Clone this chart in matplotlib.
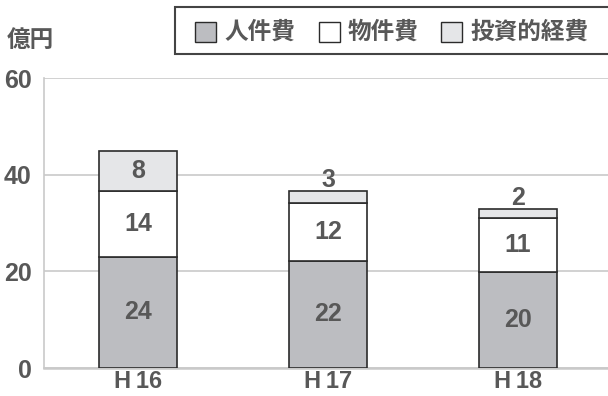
import numpy as np
import matplotlib.pyplot as plt
from matplotlib.patches import Rectangle

plt.rcParams['font.family'] = ['Liberation Sans', 'Noto Sans CJK JP', 'DejaVu Sans']
plt.rcParams['font.weight'] = 'bold'

# data (億円)
years = ["H\u200916", "H\u200917", "H\u200918"]
series = ["人件費", "物件費", "投資的経費"]
personnel = [23.0, 22.2, 19.9]
goods = [13.6, 11.9, 11.1]
invest = [8.2, 2.6, 2.0]
personnel_lbl = ["24", "22", "20"]
goods_lbl = ["14", "12", "11"]
invest_lbl = ["8", "3", "2"]
yticks = [0, 20, 40, 60]

colors = ["#bcbdc1", "#ffffff", "#e5e6e8"]
edge = "#2b2b2b"
txt = "#585858"
grid = "#c9c9c9"
fs = 18

W, H = 608, 396
fig = plt.figure(figsize=(W / 100, H / 100), dpi=100)
ax = fig.add_axes([44 / W, (H - 368) / H, 564 / W, 290 / H])

x = np.arange(len(years))
width = 0.41
vals = [personnel, goods, invest]
lbls = [personnel_lbl, goods_lbl, invest_lbl]
bottom = np.zeros(len(years))
for i, (v, lab) in enumerate(zip(vals, lbls)):
    v = np.array(v)
    bars = ax.bar(x, v, width, bottom=bottom, color=colors[i], edgecolor=edge,
                  linewidth=1.2, zorder=3)
    for j, b in enumerate(bars):
        if v[j] >= 5:
            ax.text(b.get_x() + b.get_width() / 2, bottom[j] + v[j] / 2, lab[j],
                    ha='center', va='center', fontsize=fs, color=txt,
                    fontweight='bold', zorder=4)
        else:
            ax.annotate(lab[j], (b.get_x() + b.get_width() / 2, bottom[j] + v[j]),
                        xytext=(0, -1), textcoords='offset points',
                        ha='center', va='bottom', fontsize=fs, color=txt,
                        fontweight='bold', zorder=4)
    bottom += v

ax.set_xlim(-0.495, 2.474)
ax.set_ylim(0, 60)
ax.set_yticks(yticks)
ax.set_xticks(x)
ax.set_xticklabels(years)
ax.tick_params(axis='both', length=0, labelsize=fs, colors=txt)
ax.tick_params(axis='y', pad=9)
ax.tick_params(axis='x', pad=1.5, labelsize=17)
ax.yaxis.grid(True, color=grid, linewidth=1.2, zorder=0)
for s in ['top', 'right']:
    ax.spines[s].set_visible(False)
ax.spines['left'].set_color(grid)
ax.spines['left'].set_linewidth(1.2)
ax.spines['bottom'].set_color(grid)
ax.spines['bottom'].set_linewidth(1.8)

fig.text(30 / W, 1 - 40 / H, "億円", ha='center', va='center', fontsize=17,
         color=txt, fontweight='bold')

# legend box
fig.patches.append(Rectangle((175 / W, 1 - 54 / H), 440 / W, 47 / H,
                             transform=fig.transFigure, facecolor='white',
                             edgecolor='#444444', linewidth=1.5))
leg_x = [195, 319, 441]
for i, name in enumerate(series):
    fig.patches.append(Rectangle((leg_x[i] / W, 1 - 42 / H), 21 / W, 20 / H,
                                 transform=fig.transFigure, facecolor=colors[i],
                                 edgecolor=edge, linewidth=1.0))
    fig.text((leg_x[i] + 29) / W, 1 - 32 / H, name, ha='left', va='center',
             fontsize=17, color=txt, fontweight='bold')

fig.savefig("out.png", dpi=100)
